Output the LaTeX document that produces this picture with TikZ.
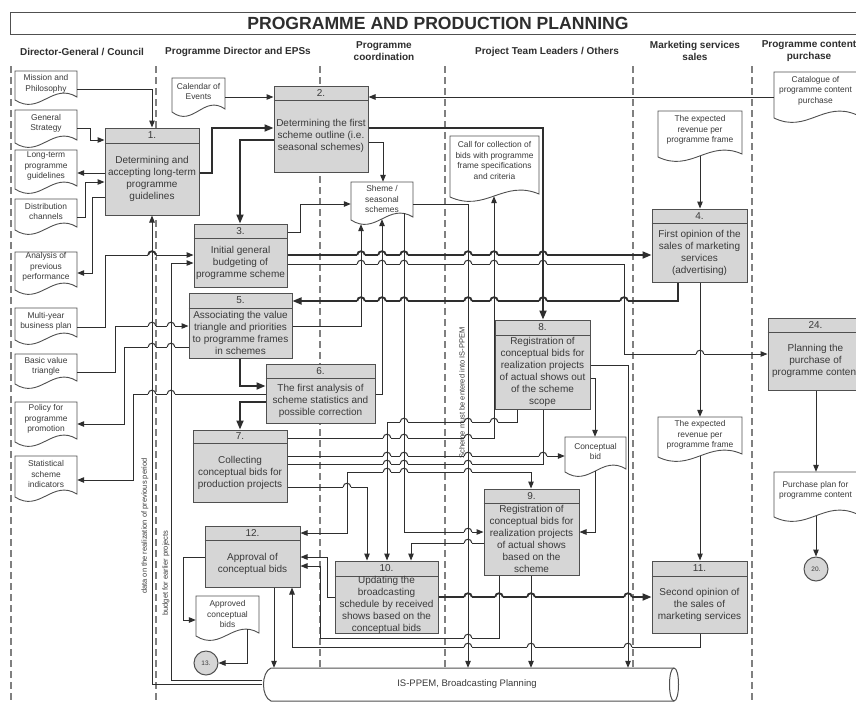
\documentclass[tikz,border=0pt]{standalone}
\usepackage{fontspec}
\setmainfont{Liberation Sans}
\usetikzlibrary{arrows.meta,calc}

\definecolor{ink}{HTML}{2E2E2E}
\definecolor{edge}{HTML}{505050}
\definecolor{boxfill}{HTML}{D6D6D6}
\definecolor{txt}{HTML}{3A3A3A}
\definecolor{lane}{HTML}{808080}

\tikzset{
  flow/.style={draw=ink, line width=1pt, -{Triangle[length=7pt,width=5.5pt]}},
  flowT/.style={draw=ink, line width=1.8pt, -{Triangle[length=9pt,width=7pt]}},
  link/.style={draw=ink, line width=1pt},
  lanesep/.style={draw=lane, line width=1.2pt, dash pattern=on 7pt off 4pt},
  boxtxt/.style={font=\fontsize{10}{12}\selectfont, text=txt, align=center, inner sep=0pt},
  doctxt/.style={font=\fontsize{8.4}{10.5}\selectfont, text=txt, align=center, inner sep=0pt},
  lanehd/.style={font=\bfseries\fontsize{10}{12}\selectfont, text=ink, align=center, inner sep=0pt},
  sidetxt/.style={font=\fontsize{7.5}{9}\selectfont, text=txt, rotate=90, inner sep=0pt},
  proc/.style={draw=edge, line width=1pt, fill=boxfill, rectangle, inner sep=0pt},
  conn/.style={circle, draw=edge, line width=1pt, fill=boxfill, minimum size=24pt, inner sep=0pt,
    font=\fontsize{6.5}{7}\selectfont, text=txt},
}

% process box: name, x1, y1, x2, y2, header bottom, number, text
\newcommand\procbox[8]{%
  \node[proc, minimum width={(#4-#2)*1pt}, minimum height={(#5-#3)*1pt}] (#1) at ({(#2+#4)/2},{(#3+#5)/2}) {};
  \draw[draw=edge, line width=1pt] (#1.west |- 0,#6) -- (#1.east |- 0,#6);
  \node[boxtxt] (#1-n) at ({(#2+#4)/2},{(#3+#6)/2}) {#7};
  \node[boxtxt] (#1-t) at ({(#2+#4)/2},{(#6+#5)/2}) {#8};
}

% document with wavy lower edge: name, x1, y1, x2, left bottom, text y, text
\newcommand\docshape[7]{%
  \node[inner sep=0pt, minimum width={(#4-#2)*1pt}, minimum height={(#5-#3)*1pt}] (#1) at ({(#2+#4)/2},{(#3+#5)/2}) {};
  \draw[draw=edge, line width=0.9pt, fill=white] (#2,#5) -- (#2,#3) -- (#4,#3) -- (#4,{#5-3})
    .. controls ({#2+0.6*(#4-#2)},{#5-18}) and ({#2+0.4*(#4-#2)},{#5+16}) .. (#2,#5) -- cycle;
  \node[doctxt] (#1-t) at ({(#2+#4)/2},#6) {#7};
}

% line hop where a horizontal connector passes over a vertical one
\newcommand\hopdraw[4]{%
  \fill[white] ({#1-3.8},{#2-1.6}) rectangle ({#1+3.8},{#2+1.6});
  \draw[ink, line width=#4pt] (#1,{#2-3.5}) -- (#1,{#2+3.5});
  \draw[ink, line width=#3pt] ({#1-3.8},#2) .. controls ({#1-3.8},{#2-5}) and ({#1+3.8},{#2-5}) .. ({#1+3.8},#2);
}

\begin{document}
\begin{tikzpicture}[x=1pt,y=-1pt]
\useasboundingbox (0,0) rectangle (856,702);
\clip (0,0) rectangle (856,702);
\fill[white] (0,0) rectangle (856,702);

% title bar
\draw[edge, line width=1pt] (10,12) rectangle (880,34);
\node[font=\bfseries\fontsize{17.6}{20}\selectfont, text=ink, inner sep=0pt] (title) at (438,23.5) {PROGRAMME AND PRODUCTION PLANNING};

% lane headers
\node[lanehd] (hd1) at (82,52) {Director-General / Council};
\node[lanehd] (hd2) at (238,52) {Programme Director and EPSs};
\node[lanehd] (hd3) at (384,51) {Programme\\coordination};
\node[lanehd] (hd4) at (547,52) {Project Team Leaders / Others};
\node[lanehd] (hd5) at (695,51) {Marketing services\\sales};
\node[lanehd] (hd6) at (809,51) {Programme content\\purchase};

% lane separators
\foreach \lx in {11,156,320,445,633,752}
  \draw[lanesep] (\lx,66) -- (\lx,702);

% documents
\docshape{dMission}{15}{71}{77}{100}{84}{Mission and\\Philosophy}
\docshape{dStrat}{15}{110}{77}{143}{123.5}{General\\Strategy}
\docshape{dLT}{15}{150}{77}{189}{166}{Long-term\\programme\\guidelines}
\docshape{dDist}{15}{199}{77}{230}{211.5}{Distribution\\channels}
\docshape{dAnal}{15}{252}{77}{290}{267}{Analysis of\\previous\\performance}
\docshape{dMulti}{15}{308}{77}{340}{321.5}{Multi-year\\business plan}
\docshape{dBasic}{15}{354}{77}{384}{366.5}{Basic value\\triangle}
\docshape{dPolicy}{15}{402}{77}{442}{419}{Policy for\\programme\\promotion}
\docshape{dStat}{15}{456}{77}{497}{474}{Statistical\\scheme\\indicators}
\docshape{dCal}{172}{78}{225}{112}{91.5}{Calendar of\\Events}
\docshape{dSheme}{351}{182}{413}{220}{199}{Sheme /\\seasonal\\schemes}
\docshape{dCall}{450}{136}{539}{197}{160.5}{Call for collection of\\bids with programme\\frame specifications\\and criteria}
\docshape{dRev1}{658}{111}{742}{157}{130}{The expected\\revenue per\\programme frame}
\docshape{dCat}{774}{72}{857}{118}{90.5}{Catalogue of\\programme content\\purchase}
\docshape{dPurch}{774}{472}{857}{517}{490.5}{Purchase plan for\\programme content}
\docshape{dRev2}{658}{417}{742}{457}{435}{The expected\\revenue per\\programme frame}
\docshape{dConc}{565}{437}{626}{472}{451.5}{Conceptual\\bid}
\docshape{dAppr}{196}{596}{259}{636}{614}{Approved\\conceptual\\bids}

% process boxes
\procbox{b1}{105}{128}{199}{215}{143}{1.}{Determining and\\accepting long-term\\programme\\guidelines}
\procbox{b2}{274}{86}{368}{172}{100}{2.}{Determining the first\\scheme outline (i.e.\\seasonal schemes)}
\procbox{b3}{194}{224}{287}{287}{238}{3.}{Initial general\\budgeting of\\programme scheme}
\procbox{b4}{652}{209}{747}{282}{223}{4.}{First opinion of the\\sales of marketing\\services\\(advertising)}
\procbox{b5}{189}{293}{292}{358}{308}{5.}{Associating the value\\triangle and priorities\\to programme frames\\in schemes}
\procbox{b6}{266}{364}{375}{423}{378}{6.}{The first analysis of\\scheme statistics and\\possible correction}
\procbox{b7}{193}{430}{287}{502}{443}{7.}{Collecting\\conceptual bids for\\production projects}
\procbox{b8}{495}{320}{590}{409}{335}{8.}{Registration of\\conceptual bids for\\realization projects\\of actual shows out\\of the scheme\\scope}
\procbox{b9}{484}{489}{579}{575}{503}{9.}{Registration of\\conceptual bids for\\realization projects\\of actual shows\\based on the\\scheme}
\procbox{b10}{335}{561}{438}{633}{576}{10.}{Updating the\\broadcasting\\schedule by received\\shows based on the\\conceptual bids}
\procbox{b11}{652}{561}{747}{633}{576}{11.}{Second opinion of\\the sales of\\marketing services}
\procbox{b12}{205}{526}{300}{587}{540}{12.}{Approval of\\conceptual bids}
\procbox{b24}{768}{318}{863}{390}{332}{24.}{Planning the\\purchase of\\programme content}

% off-page connectors
\node[conn] (c13) at (206,663) {13.};
\node[conn] (c20) at (816,569) {20.};

% IS-PPEM store
\node[inner sep=0pt, minimum width=415pt, minimum height=34pt] (cyl) at (470,685) {};
\draw[edge, line width=1pt, fill=white] (271,668) -- (674,668) .. controls (680,668) and (680,701) .. (674,701)
  -- (271,701) .. controls (261,697) and (261,672) .. (271,668) -- cycle;
\draw[edge, line width=1pt] (674,668) .. controls (668,668) and (668,701) .. (674,701);
\node[font=\fontsize{9.5}{11}\selectfont, text=txt, inner sep=0pt] (cyl-t) at (467,684) {IS-PPEM, Broadcasting Planning};

% side labels
\node[sidetxt] (lblData) at (145,526) {data on the realization of previous period};
\node[sidetxt] (lblBudget) at (166,573) {budget for earlier projects};
\node[sidetxt] (lblScheme) at (462,393) {Scheme must be entered into IS-PPEM};

% connectors: strategic inputs
\draw[flow] (dMission.east |- 0,89) -| (b1.north -| 152,0);
\draw[flow] (dStrat.east |- 0,128) -| (90,140) -- (b1.west |- 0,140);
\draw[flow] (b1.west |- 0,173) -- (dLT.east |- 0,173);
\draw[flow] (dDist.east |- 0,217) -| (85,182) -- (b1.west |- 0,182);
\draw[flow] (b1.west |- 0,197) -| (92,273) -- (dAnal.east |- 0,273);
\draw[flowT] (b1.east |- 0,173) -| (212,128) -- (b2.west |- 0,128);
\draw[flow] (dCal.east |- 0,97) -- (b2.west |- 0,97);
\draw[flow] (dCat.west |- 0,97) -- (b2.east |- 0,97);
\draw[flowT] (b2.west |- 0,140) -| (b3.north -| 240,0);
\draw[flow] (b2.east |- 0,142) -| (dSheme.north -| 383,0);
\draw[flowT] (b2.east |- 0,128) -| (b8.north -| 543,0);
\draw[flow] (b3.east |- 0,232) -| (300,204) -- (dSheme.west |- 0,204);
\draw[flow] (dSheme.east |- 0,204) -| (cyl.north -| 468,0);
\draw[flowT] (b3.east |- 0,255) -- (b4.west |- 0,255);
\draw[flow] (b3.east |- 0,264) -| (624,354) -- (b24.west |- 0,354);
\draw[flowT] (b4.south -| 678,0) |- (b5.east |- 0,301);
\draw[flow] ($(dRev1.south -| 700,0)+(0,-1)$) -- (b4.north -| 700,0);
\draw[flow] (b4.south -| 700,0) -- (dRev2.north -| 700,0);
\draw[flow] ($(dRev2.south -| 700,0)+(0,-1)$) -- (b11.north -| 700,0);
\draw[flow] ($(dPurch.south -| c20.north)+(0,-1)$) -- (c20.north);
\draw[flow] (b24.south -| 816,0) -- (dPurch.north -| 816,0);

% connectors: left lane documents
\draw[flow] (dMulti.east |- 0,327) -| (105,255) -- (b3.west |- 0,255);
\draw[flow] (dBasic.east |- 0,372) -| (115,326) -- (b5.west |- 0,326);
\draw[flow] (b5.west |- 0,347) -| (124,424) -- (dPolicy.east |- 0,424);
\draw[flow] (b6.west |- 0,394) -| (133,480) -- (dStat.east |- 0,480);

% connectors: scheme work
\draw[flowT] (b5.south -| 240,0) |- (b6.west |- 0,386);
\draw[flowT] (b6.west |- 0,402) -| (b7.north -| 240,0);
\draw[flow] (b5.east |- 0,326) -| ($(dSheme.south -| 361,0)+(0,4)$);
\draw[flow] (b6.east |- 0,394) -| ($(dSheme.south -| 382,0)+(0,-1)$);
\draw[flow] ($(dSheme.south -| 404,0)+(0,-7)$) |- (b9.west |- 0,532);
\draw[flow] (b8.south -| 517,0) -- (517,422) -| (b10.north -| 387,0);
\draw[flow] (b7.east |- 0,438) -| ($(dCall.south -| 494,0)+(0,-1)$);
\draw[flow] (b7.east |- 0,456) -- (dConc.west |- 0,456);
\draw[link] (b7.east |- 0,464) -| (b8.south -| 543,0);
\draw[flow] (347,472) |- (b12.east |- 0,533);
\draw[flow] (347,472) -| (b9.north -| 531,0);
\draw[flow] (b7.east |- 0,487) -| (b10.north -| 367,0);
\draw[flow] (b9.west |- 0,543) -| (b10.north -| 411,0);

% connectors: bids and approval
\draw[flow] (b10.west |- 0,597) -| (327,557) -- (b12.east |- 0,557);
\draw[flow] (b9.south -| 499,0) |- (320,638) |- (b12.east |- 0,566);
\draw[flow] (b11.south -| 700,0) |- (292,647) -- (b12.south -| 292,0);
\draw[flow] (b12.west |- 0,557) -| (183,620) -- (dAppr.west |- 0,620);
\draw[flow] ($(dAppr.south -| 247,0)+(0,-7)$) |- (c13.east);
\draw[flow] (b12.south -| 274,0) -- (cyl.north -| 274,0);
\draw[flow] (cyl.west |- 0,684) -| (b1.south -| 152,0);
\draw[flow] (cyl.west |- 0,680) -| (171,263) -- (b3.west |- 0,263);
\draw[flow] (b8.east |- 0,378) -| (dConc.north -| 595,0);
\draw[flow] (b8.east |- 0,365) -| (cyl.north -| 628,0);
\draw[flow] ($(dConc.south -| 595,0)+(0,-1)$) |- (b9.east |- 0,532);
\draw[flow] (b9.south -| 531,0) -- (cyl.north -| 531,0);
\draw[flowT] (b10.east |- 0,597) -- (b11.west |- 0,597);

% hops over crossing lines
\foreach \hx/\hy/\hw/\vw in {
  152/255/1.8/1, 361/255/1.8/1, 382/255/1.8/1, 404/255/1.8/1, 468/255/1.8/1, 494/255/1.8/1, 543/255/1.8/1.8,
  361/264/1/1, 382/264/1/1, 404/264/1/1, 468/264/1/1, 494/264/1/1, 543/264/1/1.8,
  361/301/1.8/1, 382/301/1.8/1, 404/301/1.8/1, 468/301/1.8/1, 494/301/1.8/1, 543/301/1.8/1.8, 624/301/1.8/1,
  152/326/1/1, 171/326/1/1, 152/347/1/1, 171/347/1/1, 152/394/1/1, 171/394/1/1,
  700/354/1/1,
  404/422/1/1, 468/422/1/1, 494/422/1/1,
  387/438/1/1, 404/438/1/1, 468/438/1/1,
  387/456/1/1, 404/456/1/1, 468/456/1/1, 543/456/1/1,
  387/464/1/1, 404/464/1/1, 468/464/1/1,
  387/472/1/1, 404/472/1/1, 468/472/1/1,
  347/487/1/1, 468/532/1/1, 468/543/1/1,
  468/597/1.8/1, 499/597/1.8/1, 531/597/1.8/1, 628/597/1.8/1,
  468/638/1/1, 468/647/1/1, 531/647/1/1, 628/647/1/1}
  \hopdraw{\hx}{\hy}{\hw}{\vw};
\end{tikzpicture}
\end{document}
